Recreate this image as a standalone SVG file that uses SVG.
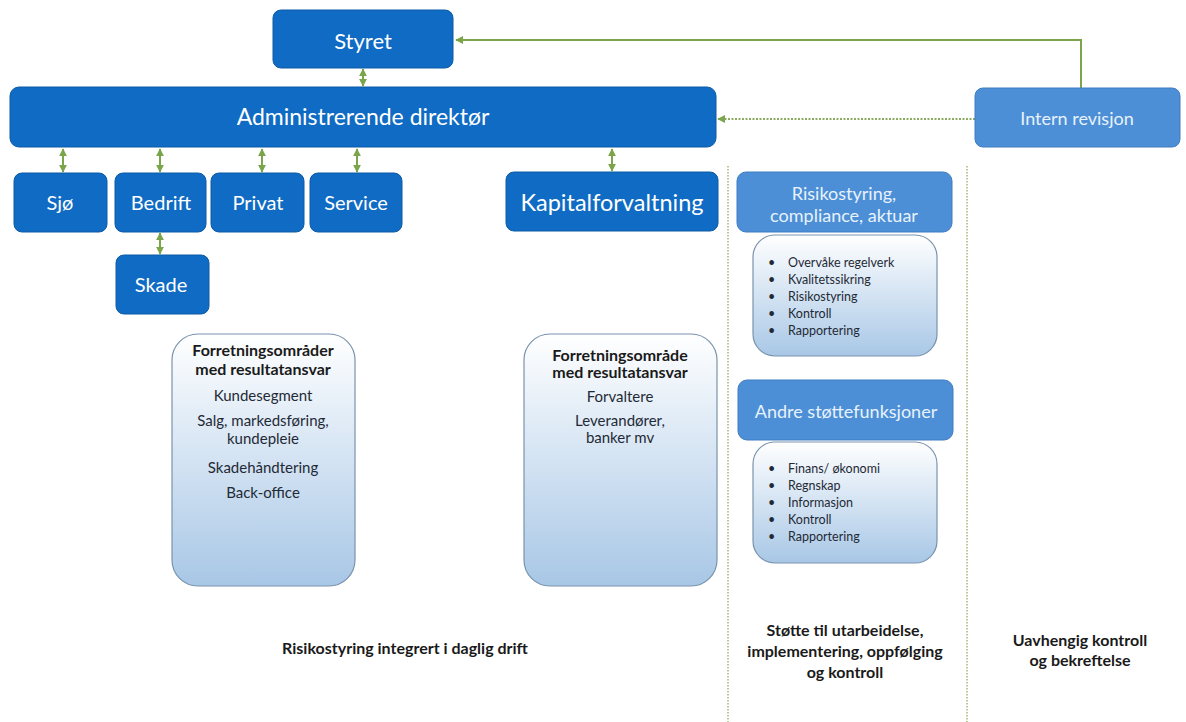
<svg xmlns="http://www.w3.org/2000/svg" width="1186" height="722" viewBox="0 0 1186 722">
<style>
.dark{fill:#0f6bc3;stroke:#0c5aa5;stroke-width:1}
.light{fill:#4c8fd6;stroke:#3f7dc0;stroke-width:1}
.grad{fill:url(#g);stroke:#7a93ad;stroke-width:1.2}
.wt{font-family:Lato,"Liberation Sans",sans-serif;fill:#ffffff;text-anchor:middle}
.lt{font-family:Lato,"Liberation Sans",sans-serif;fill:#e8f2fc;text-anchor:middle}
.bt{font-family:Lato,"Liberation Sans",sans-serif;fill:#1f2a36;font-size:15px;text-anchor:middle}
.bb{font-family:Lato,"Liberation Sans",sans-serif;fill:#1a1a1a;font-size:16px;font-weight:bold;text-anchor:middle}
.li{font-family:Lato,"Liberation Sans",sans-serif;fill:#1f2a36;font-size:12.5px}
.con{stroke:#7aa54a;stroke-width:2;fill:none}
.dot{stroke:#8aab60;stroke-width:2;fill:none;stroke-dasharray:2 1.5}
.sep{stroke:#a4b878;stroke-width:1.5;fill:none;stroke-dasharray:1.5 1.5}
</style>
<defs>
<linearGradient id="g" x1="0" y1="0" x2="0" y2="1">
<stop offset="0" stop-color="#ffffff"/>
<stop offset="1" stop-color="#a8c7e6"/>
</linearGradient>
<marker id="ah" viewBox="0 0 10 10" refX="9" refY="5" markerWidth="4" markerHeight="4" orient="auto-start-reverse">
<path d="M0,0 L10,5 L0,10 z" fill="#7aa54a"/>
</marker>
</defs>

<g id="separators">
<line class="sep" x1="728" y1="166" x2="728" y2="722"/>
<line class="sep" x1="967" y1="166" x2="967" y2="722"/>
</g>

<g id="connectors">
<line class="con" x1="363" y1="69" x2="363" y2="86" marker-start="url(#ah)" marker-end="url(#ah)"/>
<line class="con" x1="63" y1="149" x2="63" y2="172" marker-start="url(#ah)" marker-end="url(#ah)"/>
<line class="con" x1="160" y1="149" x2="160" y2="172" marker-start="url(#ah)" marker-end="url(#ah)"/>
<line class="con" x1="262" y1="149" x2="262" y2="172" marker-start="url(#ah)" marker-end="url(#ah)"/>
<line class="con" x1="357" y1="149" x2="357" y2="172" marker-start="url(#ah)" marker-end="url(#ah)"/>
<line class="con" x1="160" y1="233" x2="160" y2="254" marker-start="url(#ah)" marker-end="url(#ah)"/>
<line class="con" x1="612" y1="149" x2="612" y2="171" marker-start="url(#ah)" marker-end="url(#ah)"/>
<polyline class="con" points="1081,88 1081,40 456,40" marker-end="url(#ah)"/>
<line class="dot" x1="975" y1="119" x2="718" y2="119" marker-end="url(#ah)"/>
</g>

<g id="styret">
<rect class="dark" x="273" y="10" width="180" height="58" rx="8"/>
<text class="wt" x="363" y="49" font-size="22">Styret</text>
</g>

<g id="admin">
<rect class="dark" x="10" y="87" width="706" height="60" rx="9"/>
<text class="wt" x="363" y="125" font-size="23">Administrerende direktør</text>
</g>

<g id="intern">
<rect class="light" x="975" y="88" width="205" height="59" rx="8"/>
<text class="lt" x="1077" y="125" font-size="18">Intern revisjon</text>
</g>

<g id="sjo">
<rect class="dark" x="14" y="173" width="93" height="59" rx="8"/>
<text class="wt" x="60" y="210" font-size="20">Sjø</text>
</g>
<g id="bedrift">
<rect class="dark" x="115" y="173" width="91" height="59" rx="8"/>
<text class="wt" x="161" y="210" font-size="20">Bedrift</text>
</g>
<g id="privat">
<rect class="dark" x="211" y="173" width="93" height="59" rx="8"/>
<text class="wt" x="258" y="210" font-size="20">Privat</text>
</g>
<g id="service">
<rect class="dark" x="310" y="173" width="92" height="59" rx="8"/>
<text class="wt" x="356" y="210" font-size="20">Service</text>
</g>
<g id="skade">
<rect class="dark" x="116" y="255" width="93" height="59" rx="8"/>
<text class="wt" x="161" y="292" font-size="20">Skade</text>
</g>
<g id="kapital">
<rect class="dark" x="506" y="172" width="212" height="59" rx="8"/>
<text class="wt" x="612" y="211" font-size="23.5">Kapitalforvaltning</text>
</g>

<g id="forretning">
<rect class="grad" x="172" y="334" width="183" height="252" rx="26"/>
<text class="bb" x="263" y="356">Forretningsområder</text>
<text class="bb" x="263" y="375">med resultatansvar</text>
<text class="bt" x="263" y="401">Kundesegment</text>
<text class="bt" x="263" y="426">Salg, markedsføring,</text>
<text class="bt" x="263" y="444">kundepleie</text>
<text class="bt" x="263" y="473">Skadehåndtering</text>
<text class="bt" x="263" y="498">Back-office</text>
</g>

<g id="forretning2">
<rect class="grad" x="524" y="334" width="193" height="252" rx="26"/>
<text class="bb" x="620" y="361">Forretningsområde</text>
<text class="bb" x="620" y="378">med resultatansvar</text>
<text class="bt" x="620" y="402">Forvaltere</text>
<text class="bt" x="620" y="426">Leverandører,</text>
<text class="bt" x="620" y="443">banker mv</text>
</g>

<g id="risiko">
<rect class="light" x="737" y="172" width="215" height="60" rx="9"/>
<text class="lt" x="844" y="200" font-size="18">Risikostyring,</text>
<text class="lt" x="844" y="222" font-size="18">compliance, aktuar</text>
</g>
<g id="risiko-list">
<rect class="grad" x="753" y="235" width="184" height="121" rx="22"/>
<g class="li">
<text x="768" y="267">•</text><text x="788" y="267">Overvåke regelverk</text>
<text x="768" y="284">•</text><text x="788" y="284">Kvalitetssikring</text>
<text x="768" y="301">•</text><text x="788" y="301">Risikostyring</text>
<text x="768" y="318">•</text><text x="788" y="318">Kontroll</text>
<text x="768" y="335">•</text><text x="788" y="335">Rapportering</text>
</g>
</g>

<g id="andre">
<rect class="light" x="738" y="380" width="215" height="60" rx="9"/>
<text class="lt" x="846" y="418" font-size="18">Andre støttefunksjoner</text>
</g>
<g id="andre-list">
<rect class="grad" x="753" y="442" width="184" height="121" rx="22"/>
<g class="li">
<text x="768" y="473">•</text><text x="788" y="473">Finans/ økonomi</text>
<text x="768" y="490">•</text><text x="788" y="490">Regnskap</text>
<text x="768" y="507">•</text><text x="788" y="507">Informasjon</text>
<text x="768" y="524">•</text><text x="788" y="524">Kontroll</text>
<text x="768" y="541">•</text><text x="788" y="541">Rapportering</text>
</g>
</g>

<g id="labels">
<text class="bb" x="405" y="654">Risikostyring integrert i daglig drift</text>
<text class="bb" x="845" y="636">Støtte til utarbeidelse,</text>
<text class="bb" x="845" y="657">implementering, oppfølging</text>
<text class="bb" x="845" y="678">og kontroll</text>
<text class="bb" x="1080" y="646">Uavhengig kontroll</text>
<text class="bb" x="1080" y="666">og bekreftelse</text>
</g>
</svg>
